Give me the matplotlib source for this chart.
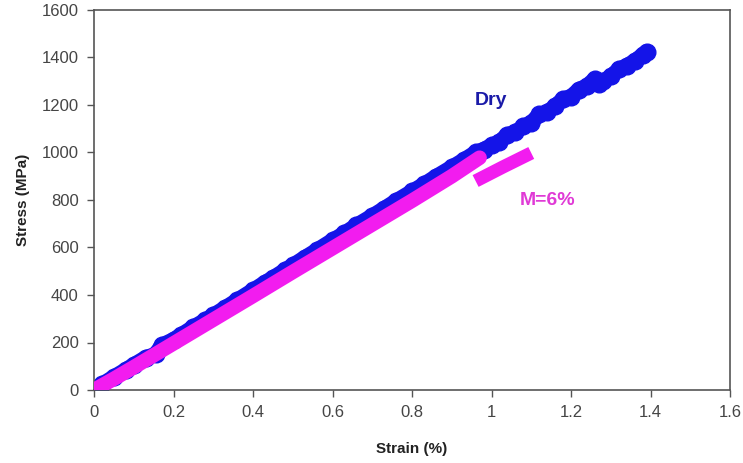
import matplotlib
matplotlib.use("Agg")
import matplotlib.pyplot as plt

plt.rcParams['font.family'] = ['Liberation Sans', 'DejaVu Sans']

# stress-strain data
dry_strain = [0.0, 0.02, 0.05, 0.08, 0.10, 0.13, 0.155, 0.17, 0.20, 0.22, 0.25, 0.28,
              0.30, 0.33, 0.36, 0.40, 0.43, 0.45, 0.48, 0.50, 0.53, 0.56, 0.60, 0.63,
              0.66, 0.70, 0.73, 0.76, 0.80, 0.83, 0.86, 0.90, 0.93, 0.96, 0.98, 1.00,
              1.02, 1.04, 1.06, 1.08, 1.10, 1.12, 1.14, 1.16, 1.18, 1.20, 1.22, 1.24,
              1.26, 1.27, 1.28, 1.30, 1.32, 1.34, 1.36, 1.38, 1.39]
dry_stress = [0, 24, 55, 85, 106, 136, 150, 188, 212, 233, 265, 294,
              315, 346, 378, 420, 452, 472, 504, 525, 557, 588, 630, 660,
              693, 733, 764, 796, 836, 866, 898, 938, 968, 1000, 1012, 1030,
              1045, 1075, 1085, 1110, 1125, 1160, 1170, 1195, 1225, 1235, 1265, 1280,
              1310, 1290, 1300, 1320, 1350, 1365, 1385, 1410, 1425]

wet_strain = [0.0, 0.05, 0.10, 0.20, 0.30, 0.40, 0.50, 0.60, 0.70, 0.80, 0.90, 0.97]
wet_stress = [0, 47, 96, 196, 296, 396, 497, 597, 697, 797, 900, 978]
wet_tail_strain = [0.96, 1.03, 1.10]
wet_tail_stress = [880, 940, 998]

blue = "#1414e8"
magenta = "#f21cef"

fig = plt.figure(figsize=(7.43, 4.63), dpi=100)
ax = fig.add_axes([94/743, 73/463, 636/743, 380/463])

ax.plot(dry_strain, dry_stress, color=blue, lw=11, marker='o', ms=12,
        solid_capstyle='round', zorder=2)
ax.plot(wet_strain, wet_stress, color=magenta, lw=10.5, solid_capstyle='round', zorder=3)
ax.plot(wet_tail_strain, wet_tail_stress, color=magenta, lw=9.5,
        solid_capstyle='butt', zorder=3)

ax.text(1.0, 1218, "Dry", color="#1a1aa8", fontsize=14, fontweight='bold',
        ha='center', va='center')
ax.text(1.14, 798, "M=6%", color="#e03ad6", fontsize=14, fontweight='bold',
        ha='center', va='center')

ax.set_xlim(0, 1.6)
ax.set_ylim(0, 1600)
ax.set_xticks([0, 0.2, 0.4, 0.6, 0.8, 1, 1.2, 1.4, 1.6])
ax.set_xticklabels(["0", "0.2", "0.4", "0.6", "0.8", "1", "1.2", "1.4", "1.6"])
ax.set_yticks(range(0, 1601, 200))
ax.tick_params(direction='out', length=5, width=1, colors="#555555",
               labelcolor="#454545", labelsize=12, pad=6)
for s in ax.spines.values():
    s.set_color("#555555")
    s.set_linewidth(1.2)

ax.set_xlabel("Strain (%)", fontsize=11, fontweight='bold', color="#222222", labelpad=16)
ax.set_ylabel("Stress (MPa)", fontsize=11, fontweight='bold', color="#222222", labelpad=8)

fig.savefig("out.png", dpi=100)
